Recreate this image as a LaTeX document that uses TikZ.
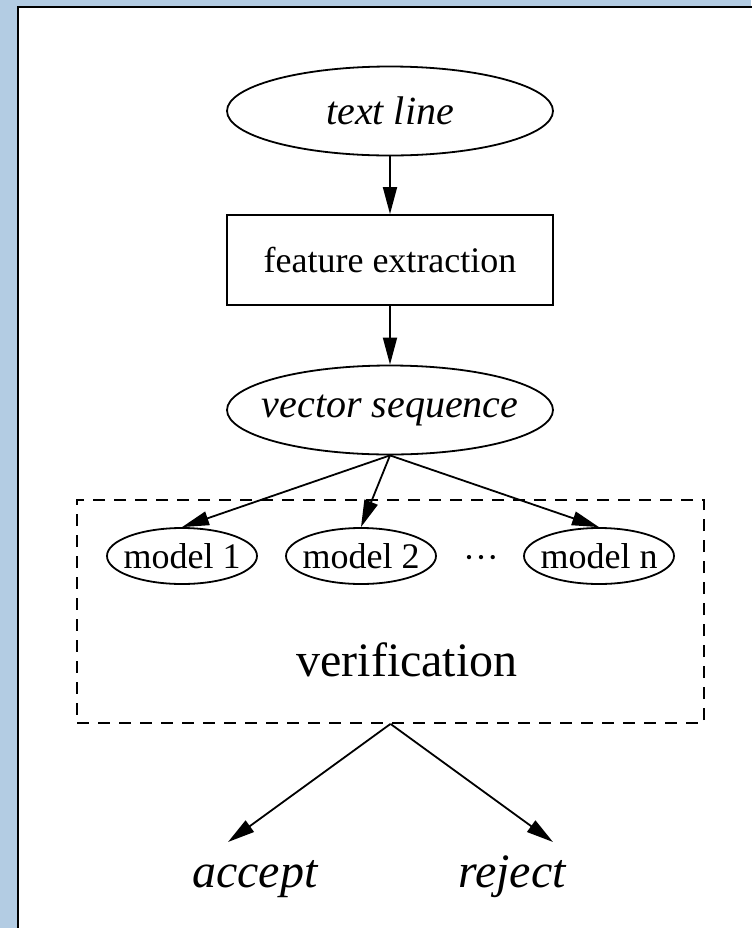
\documentclass[tikz,border=0pt]{standalone}
\usepackage{fontspec}
\setmainfont{Liberation Serif}
\usetikzlibrary{arrows.meta,shapes.geometric}
\definecolor{paneblue}{RGB}{179,204,227}

\begin{document}
\begin{tikzpicture}[x=0.5pt,y=-0.5pt,
  every node/.style={font=\fontsize{18}{22}\selectfont},
  oval/.style={draw,ellipse,line width=0.9pt,inner sep=0pt},
  model/.style={oval,minimum width=75pt,minimum height=28pt},
  data/.style={oval,minimum width=163pt,minimum height=44.5pt,
    label={[font=\fontsize{20}{24}\selectfont\itshape]center:#1}},
  box/.style={draw,rectangle,line width=0.9pt,inner sep=0pt},
  big/.style={font=\fontsize{24}{29}\selectfont},
  arr/.style={line width=0.9pt,-{Triangle[length=13.5pt,width=7pt]}}]
\useasboundingbox (0,0) rectangle (751,928);
\fill [paneblue] (0,0) rectangle (751,928);
\filldraw [fill=white,draw=black,line width=1pt] (17.5,6.5) rectangle (800,980);

% pipeline
\node[data=text line] (line) at (390,111) {};
\node[box,minimum width=163pt,minimum height=45pt] (feat) at (390,260) {feature extraction};
\node[data=vector sequence] (vec) at (390,410) {};
\draw[arr] (line) -- (feat);
\draw[arr] (feat) -- (vec);

% verification cluster
\node[draw,line width=0.9pt,dash pattern=on 6pt off 4.5pt,minimum width=313.5pt,minimum height=111.5pt] (verbox) at (390.5,611.5) {};
\node[model,label=center:model 1] (m1) at (182,556) {};
\node[model,label=center:model 2] (m2) at (361,556) {};
\node[model,label=center:model n] (mn) at (599,556) {};
\node (dots) at (481,562) {···};
\node[big] (verif) at (407,660) {verification};
\draw[arr] (vec.south) -- (m1.north);
\draw[arr] (vec.south) -- (m2.north);
\draw[arr] (vec.south) -- (mn.north);

% decision
\node[big,anchor=base] (acc) at (255,887) {\itshape accept};
\node[big,anchor=base] (rej) at (512,887) {\itshape reject};
\coordinate (acctip) at (228,842);
\coordinate (rejtip) at (553,842);
\draw[arr] (verbox.south) -- (acctip);
\draw[arr] (verbox.south) -- (rejtip);
\end{tikzpicture}
\end{document}
